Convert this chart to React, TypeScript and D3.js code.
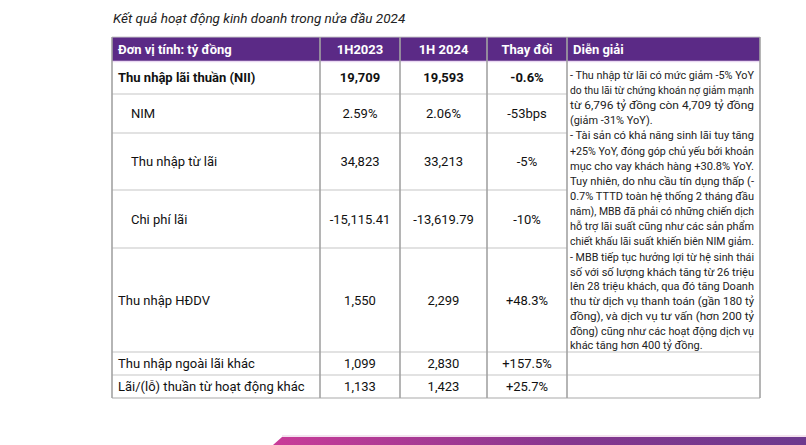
import React from "react";
import * as d3 from "d3";

const title = "Kết quả hoạt động kinh doanh trong nửa đầu 2024";
const headers = ["Đơn vị tính: tỷ đồng", "1H2023", "1H 2024", "Thay đổi", "Diễn giải"];
const rowLabels = [
  "Thu nhập lãi thuần (NII)",
  "NIM",
  "Thu nhập từ lãi",
  "Chi phí lãi",
  "Thu nhập HĐDV",
  "Thu nhập ngoài lãi khác",
  "Lãi/(lỗ) thuần từ hoạt động khác",
];
const values2023 = ["19,709", "2.59%", "34,823", "-15,115.41", "1,550", "1,099", "1,133"];
const values2024 = ["19,593", "2.06%", "33,213", "-13,619.79", "2,299", "2,830", "1,423"];
const changes = ["-0.6%", "-53bps", "-5%", "-10%", "+48.3%", "+157.5%", "+25.7%"];
const boldRows = [true, false, false, false, false, false, false];
const indentRows = [false, true, true, true, false, false, false];

const note1 = [
  "- Thu nhập từ lãi có mức giảm -5% YoY",
  "do thu lãi từ chứng khoán nợ giảm mạnh",
  "từ 6,796 tỷ đồng còn 4,709 tỷ đồng",
  "(giảm -31% YoY).",
  "- Tài sản có khả năng sinh lãi tuy tăng",
  "+25% YoY, đóng góp chủ yếu bởi khoản",
  "mục cho vay khách hàng +30.8% YoY.",
  "Tuy nhiên, do nhu cầu tín dụng thấp (-",
  "0.7% TTTD toàn hệ thống 2 tháng đầu",
  "năm), MBB đã phải có những chiến dịch",
  "hỗ trợ lãi suất cũng như các sản phẩm",
  "chiết khấu lãi suất khiến biên NIM giảm.",
];
const note1Last = [3, 11];
const note2 = [
  "- MBB tiếp tục hưởng lợi từ hệ sinh thái",
  "số với số lượng khách tăng từ 26 triệu",
  "lên 28 triệu khách, qua đó tăng Doanh",
  "thu từ dịch vụ thanh toán (gần 180 tỷ",
  "đồng), và dịch vụ tư vấn (hơn 200 tỷ",
  "đồng) cũng như các hoạt động dịch vụ",
  "khác tăng hơn 400 tỷ đồng.",
];
const note2Last = [6];

// layout
const W = 806, H = 445;
const colEdges = [112, 320, 400, 487, 567, 760];
const headerTop = 37, headerBottom = 61;
const rowEdges = [61, 94, 133, 190, 248, 352, 375, 398];
const FONT = "Roboto, 'Open Sans', sans-serif";
const purple = "#5b2a86";

let ctx: CanvasRenderingContext2D | null = null;
function measure(text: string, font: string) {
  if (!ctx) ctx = document.createElement("canvas").getContext("2d");
  ctx!.font = font;
  return ctx!.measureText(text).width;
}

function Justified({ lines, lastIdx, x0, x1, y0, step, size }: any) {
  const font = `${size}px Roboto`;
  const span = x1 - x0;
  const ratios = lines
    .map((ln: string, i: number) => (lastIdx.includes(i) ? null : span / measure(ln, font)))
    .filter((v: number | null) => v !== null) as number[];
  const k = Math.min(1, d3.median(ratios) || 1);
  return (
    <g fontSize={size} fill="#222" fontFamily={FONT}>
      {lines.map((ln: string, i: number) => {
        const y = y0 + i * step;
        const len = lastIdx.includes(i) ? Math.min(span, measure(ln, font) * k) : span;
        return (
          <text key={i} x={x0} y={y} textLength={len} lengthAdjust="spacingAndGlyphs">{ln}</text>
        );
      })}
    </g>
  );
}

export default function App() {
  const rowIdx = d3.range(rowLabels.length);
  const colCenter = (c: number) => (colEdges[c] + colEdges[c + 1]) / 2;
  const rowMid = (r: number) => (rowEdges[r] + rowEdges[r + 1]) / 2;
  return (
    <svg width={W} height={H} style={{ position: "absolute", left: 0, top: 0, display: "block" }} fontFamily={FONT}>
      <defs>
        <linearGradient id="band" x1="0" x2="1" y1="0" y2="0">
          <stop offset="0" stopColor="#c93c98" />
          <stop offset="0.55" stopColor="#85378f" />
          <stop offset="1" stopColor="#6d3a8e" />
        </linearGradient>
      </defs>
      <rect width={W} height={H} fill="#fff" />
      <text x={113} y={23} fontSize={13.5} fontStyle="italic" fill="#222">{title}</text>

      {/* header */}
      <rect x={colEdges[0]} y={headerTop} width={colEdges[5] - colEdges[0]} height={headerBottom - headerTop} fill={purple} />
      <line x1={colEdges[0]} x2={colEdges[5]} y1={headerTop} y2={headerTop} stroke="#c8c8c8" strokeWidth={1} />
      <line x1={colEdges[0]} x2={colEdges[5]} y1={headerBottom + 0.5} y2={headerBottom + 0.5} stroke="#ead9f2" strokeWidth={1.5} />
      <g fill="#fff" fontWeight="bold" fontSize={13}>
        <text x={118} y={54}>{headers[0]}</text>
        {[1, 2, 3].map((c) => (
          <text key={c} x={colCenter(c)} y={54} textAnchor="middle">{headers[c]}</text>
        ))}
        <text x={573} y={54}>{headers[4]}</text>
      </g>

      {/* horizontal rules */}
      {rowEdges.slice(1).map((y, i) => {
        const full = i >= 4;
        return (
          <line key={i} x1={colEdges[0]} x2={full ? colEdges[5] : colEdges[4]} y1={y} y2={y}
            stroke="#d9d9d9" strokeWidth={1.5} />
        );
      })}
      <line x1={colEdges[0]} x2={colEdges[5]} y1={rowEdges[7]} y2={rowEdges[7]} stroke="#cfcfcf" strokeWidth={1.5} />

      {/* vertical rules */}
      {colEdges.map((x, i) => (
        <line key={i} x1={x} x2={x} y1={headerTop} y2={rowEdges[7]}
          stroke="#a3a3a3" strokeWidth={1.6} />
      ))}

      {/* rows */}
      {rowIdx.map((r) => (
        <g key={r} fontSize={13} fill="#111" fontWeight={boldRows[r] ? "bold" : "normal"}>
          <text x={indentRows[r] ? 131 : 118} y={rowMid(r)} dy="0.35em">{rowLabels[r]}</text>
          <text x={colCenter(1)} y={rowMid(r)} dy="0.35em" textAnchor="middle">{values2023[r]}</text>
          <text x={colCenter(2)} y={rowMid(r)} dy="0.35em" textAnchor="middle">{values2024[r]}</text>
          <text x={colCenter(3)} y={rowMid(r)} dy="0.35em" textAnchor="middle">{changes[r]}</text>
        </g>
      ))}

      <Justified lines={note1} lastIdx={note1Last} x0={570} x1={754} y0={79} step={15.1} size={11.5} />
      <Justified lines={note2} lastIdx={note2Last} x0={570} x1={754} y0={261} step={14.7} size={11.5} />

      {/* bottom band */}
      <line x1={282} x2={W} y1={436} y2={436} stroke="#e8c5de" strokeWidth={1} />
      <path d={`M282,437 L${W},437 L${W},${H} L273,${H} Z`} fill="url(#band)" />
    </svg>
  );
}
